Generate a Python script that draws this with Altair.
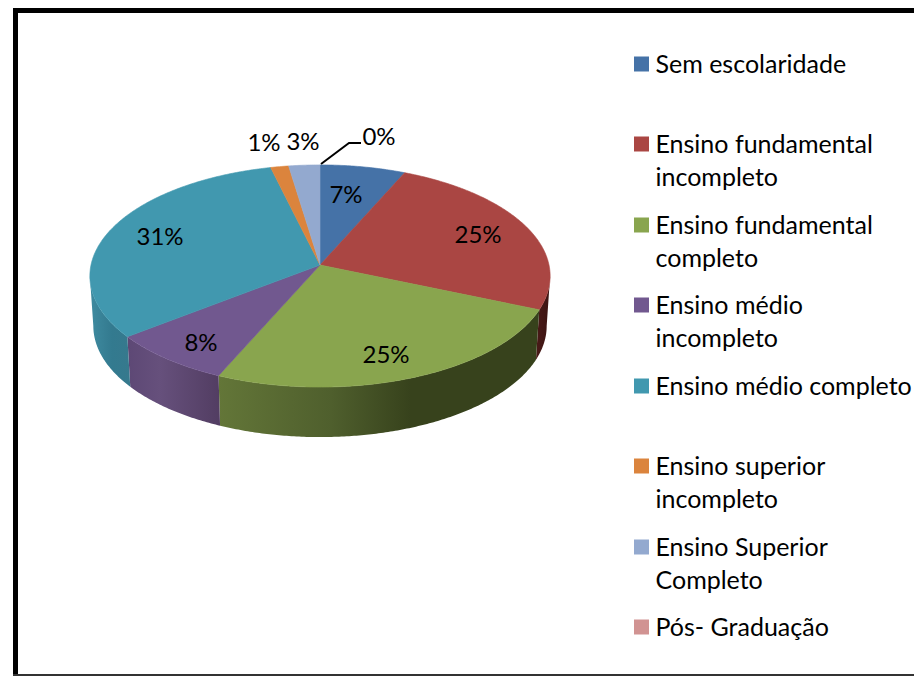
import math
import altair as alt

W, H = 914, 676

categories = ["Sem escolaridade", "Ensino fundamental incompleto", "Ensino fundamental completo",
              "Ensino médio incompleto", "Ensino médio completo", "Ensino superior incompleto",
              "Ensino Superior Completo", "Pós- Graduação"]
colors = ["#4572a7", "#aa4643", "#89a54e", "#71588f", "#4198af", "#db843d", "#93a9cf", "#d19392"]
slice_values = [6.6, 24.8, 25.2, 7.9, 31.7, 1.4, 2.4, 0.0]

pct_labels = ["7%", "25%", "25%", "8%", "31%", "1%", "3%", "0%"]
pct_x = [346, 478, 386, 201, 160, 264, 303, 379]
pct_y = [196, 236, 356, 344, 238, 144, 143, 138]

legend_idx = [0, 1, 2, 3, 4, 5, 6, 7]
legend_sq_y = [64, 144, 225, 305, 386, 466, 547, 627]
legend_y = [65, 145, 226, 306, 387, 467, 548, 628]
legend_lines = [["Sem escolaridade"], ["Ensino fundamental", "incompleto"], ["Ensino fundamental", "completo"],
                ["Ensino médio", "incompleto"], ["Ensino médio completo"], ["Ensino superior", "incompleto"],
                ["Ensino Superior", "Completo"], ["Pós- Graduação"]]
legend_line_step = 32.5

wall_stops = {
    1: [("#4a1a18", 0), ("#3b1412", 1)],
    2: [("#637638", 0), ("#4f5f2d", 0.35), ("#37421c", 0.6), ("#37421c", 1)],
    3: [("#5d4875", 0), ("#66507c", 0.35), ("#523d62", 1)],
    4: [("#3f8ba0", 0), ("#337a8f", 0.55), ("#36798d", 1)],
}

leader_x = [321, 349, 361]
leader_y = [164, 143, 143]

# disc geometry of the tilted pie (perspective projection of a circle)
CX, CY, RX, RY, K = 320.0, 265.0, 229.0, 110.0, 0.099
DEPTH, BOTTOM_SCALE = 50.0, 0.985


def rim(theta, bottom=False):
    u, v = math.sin(theta), -math.cos(theta)
    d = 1 - K * v
    x, y = RX * u / d, RY * v / d
    if bottom:
        return [CX + BOTTOM_SCALE * x, CY + y + DEPTH]
    return [CX + x, CY + y]


def arc(a, b, bottom=False):
    n = max(2, int(abs(b - a) / 0.01))
    return [rim(a + (b - a) * i / n, bottom) for i in range(n + 1)]


total = sum(slice_values)
bounds = [0.0]
for v in slice_values:
    bounds.append(bounds[-1] + v / total * 2 * math.pi)


def feature(ring, cat):
    return {"type": "Feature", "properties": {"category": cat},
            "geometry": {"type": "Polygon", "coordinates": [ring + [ring[0]]]}}


proj = dict(type="identity", scale=1, translate=[-8, -8])
color_scale = alt.Scale(domain=categories, range=colors)
xs = alt.Scale(domain=[8, W], range=[0, W - 8])
ys = alt.Scale(domain=[8, H], range=[0, H - 8])

layers = []

# side walls, between the two silhouette points of the disc
lo, hi = math.radians(95.7), math.radians(264.3)
for i, stops in wall_stops.items():
    a, b = max(bounds[i], lo), min(bounds[i + 1], hi)
    ring = arc(a, b) + arc(b, a, bottom=True)
    grad = alt.Gradient(gradient="linear", x1=0, x2=1, y1=0, y2=0,
                        stops=[alt.GradientStop(color=c, offset=o) for c, o in stops])
    layers.append(alt.Chart(alt.Data(values=[feature(ring, categories[i])]))
                  .mark_geoshape(fill=grad, stroke=None, strokeWidth=0)
                  .project(**proj))

# top faces
tops = []
for i, c in enumerate(categories):
    if slice_values[i] > 0:
        tops.append(feature([[CX, CY]] + arc(bounds[i], bounds[i + 1]), c))
layers.append(alt.Chart(alt.Data(values=tops)).mark_geoshape(strokeWidth=0.6).encode(
    fill=alt.Color("properties.category:N", scale=color_scale, legend=None),
    stroke=alt.Color("properties.category:N", scale=color_scale, legend=None),
).project(**proj))

# percentage labels
pct_rows = [dict(t=t, x=x, y=y) for t, x, y in zip(pct_labels, pct_x, pct_y)]
layers.append(alt.Chart(alt.Data(values=pct_rows)).mark_text(
    font="Lato", fontSize=24, color="#000000", align="center", baseline="middle").encode(
    x=alt.X("x:Q", scale=xs, axis=None), y=alt.Y("y:Q", scale=ys, axis=None), text="t:N"))

# leader line
layers.append(alt.Chart(alt.Data(values=[dict(x=x, y=y, o=i) for i, (x, y) in enumerate(zip(leader_x, leader_y))]))
              .mark_line(color="#000000", strokeWidth=2).encode(
    x=alt.X("x:Q", scale=xs, axis=None), y=alt.Y("y:Q", scale=ys, axis=None), order="o:Q"))

# legend
sq_rows = [dict(c=categories[i], x=641.5, y=legend_sq_y[i]) for i in legend_idx]
layers.append(alt.Chart(alt.Data(values=sq_rows)).mark_square(size=225, opacity=1, filled=True).encode(
    x=alt.X("x:Q", scale=xs, axis=None), y=alt.Y("y:Q", scale=ys, axis=None),
    fill=alt.Color("c:N", scale=color_scale, legend=None)))
txt_rows = []
for i in legend_idx:
    for j, line in enumerate(legend_lines[i]):
        txt_rows.append(dict(t=line, x=655.5, y=legend_y[i] + j * legend_line_step))
layers.append(alt.Chart(alt.Data(values=txt_rows)).mark_text(
    font="Lato", fontSize=25, color="#000000", align="left", baseline="middle").encode(
    x=alt.X("x:Q", scale=xs, axis=None), y=alt.Y("y:Q", scale=ys, axis=None), text="t:N"))

# frame
def frame(x1, x2, y1, y2, col="#000000"):
    return alt.Chart(alt.Data(values=[{"k": 0}])).mark_rect(color=col).encode(
        x=alt.value(x1 - 8), x2=alt.value(x2 - 8), y=alt.value(y1 - 8), y2=alt.value(y2 - 8))

layers.append(frame(13, 18, 8, H))
layers.append(frame(13, W, 8, 13))
layers.append(frame(13, W, H - 2, H, "#333333"))

chart = alt.layer(*layers).properties(width=W - 8, height=H - 8, padding=0).configure_view(stroke=None)
chart.save("out.html", embed_options={"renderer": "svg", "actions": False})
